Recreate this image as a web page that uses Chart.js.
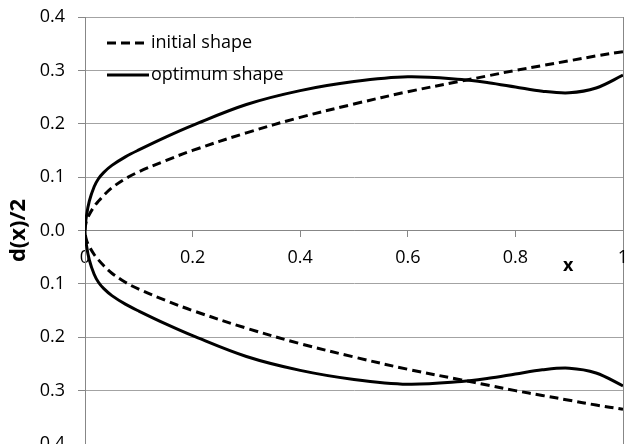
<!DOCTYPE html>
<html>
<head>
<meta charset="utf-8">
<script src="https://cdn.jsdelivr.net/npm/chart.js@4.4.0/dist/chart.umd.min.js"></script>
<style>
  html, body { margin: 0; padding: 0; background: #fff; overflow: hidden; }
  #wrap { position: absolute; left: 0; top: 0; width: 629px; height: 460px; }
</style>
</head>
<body>
<div id="wrap"><canvas id="c"></canvas></div>
<script>
// ---- data ----
const seriesNames = ['initial shape', 'optimum shape'];
const xs = [0, 0.0025, 0.008, 0.017, 0.025, 0.035, 0.05, 0.075, 0.1, 0.15, 0.2, 0.3, 0.4, 0.5, 0.6, 0.7, 0.75, 0.8, 0.85, 0.9, 0.95, 1];
const initialUpper = [0, 0.017, 0.030, 0.045, 0.055, 0.066, 0.080, 0.097, 0.110, 0.131, 0.150, 0.183, 0.212, 0.237, 0.260, 0.280, 0.290, 0.300, 0.309, 0.318, 0.327, 0.335];
const initialLower = [0, -0.017, -0.030, -0.045, -0.055, -0.066, -0.080, -0.097, -0.110, -0.131, -0.150, -0.183, -0.212, -0.237, -0.260, -0.280, -0.290, -0.300, -0.309, -0.318, -0.327, -0.335];
const optimumUpper = [0, 0.026, 0.055, 0.082, 0.097, 0.109, 0.122, 0.138, 0.151, 0.175, 0.197, 0.236, 0.262, 0.279, 0.288, 0.283, 0.277, 0.269, 0.261, 0.258, 0.267, 0.291];
const optimumLower = [0, -0.026, -0.055, -0.082, -0.097, -0.109, -0.122, -0.138, -0.151, -0.175, -0.197, -0.236, -0.262, -0.279, -0.288, -0.283, -0.277, -0.269, -0.261, -0.258, -0.267, -0.291];
const xTickValues = [0, 0.2, 0.4, 0.6, 0.8, 1];
const yTickValues = [-0.4, -0.3, -0.2, -0.1, 0, 0.1, 0.2, 0.3, 0.4];
const yTitle = 'd(x)/2';
const xTitle = 'x';

// closed outline: upper branch from x=1 back to 0, then lower branch 0 -> 1
function outline(upper, lower) {
  const pts = [];
  for (let i = xs.length - 1; i >= 0; i--) pts.push({x: xs[i], y: upper[i]});
  for (let i = 1; i < xs.length; i++) pts.push({x: xs[i], y: lower[i]});
  return pts;
}

const FONT = "'Open Sans', sans-serif";
const AXIS = '#878787';
const GRID = '#a3a3a3';

const legendInside = {
  id: 'legendInside',
  afterDraw(chart) {
    const ctx = chart.ctx;
    const left = chart.chartArea.left + 22;
    const rows = [43, 75];
    ctx.save();
    chart.data.datasets.forEach((ds, i) => {
      const y = rows[i];
      ctx.beginPath();
      ctx.setLineDash(ds.borderDash || []);
      ctx.lineWidth = ds.borderWidth;
      ctx.strokeStyle = ds.borderColor;
      ctx.moveTo(left, y);
      ctx.lineTo(left + 42, y);
      ctx.stroke();
      ctx.setLineDash([]);
      ctx.fillStyle = '#000';
      ctx.font = '18px ' + FONT;
      ctx.textAlign = 'left';
      ctx.textBaseline = 'middle';
      ctx.fillText(ds.label, left + 44, y);
    });
    // x axis title next to the axis
    const xs_ = chart.scales.x, ys_ = chart.scales.y;
    ctx.font = 'bold 18px ' + FONT;
    ctx.textAlign = 'center';
    ctx.textBaseline = 'middle';
    ctx.fillStyle = '#000';
    ctx.fillText(xTitle, xs_.getPixelForValue(0.9) - 1, ys_.getPixelForValue(0) + 35);
    ctx.restore();
  }
};

new Chart(document.getElementById('c'), {
  type: 'scatter',
  data: {
    datasets: [
      {
        label: seriesNames[0],
        data: outline(initialUpper, initialLower),
        showLine: true,
        borderColor: '#000',
        borderWidth: 3,
        borderDash: [9, 5],
        pointRadius: 0,
        tension: 0.35,
        fill: false
      },
      {
        label: seriesNames[1],
        data: outline(optimumUpper, optimumLower),
        showLine: true,
        borderColor: '#000',
        borderWidth: 3,
        pointRadius: 0,
        tension: 0.35,
        fill: false
      }
    ]
  },
  options: {
    responsive: true,
    maintainAspectRatio: false,
    animation: false,
    devicePixelRatio: 1,
    layout: { padding: { top: 17, right: 6, bottom: 16, left: 0 } },
    plugins: { legend: { display: false }, tooltip: { enabled: false } },
    scales: {
      x: {
        type: 'linear',
        position: { y: 0 },
        min: 0, max: 1,
        afterBuildTicks(scale) { scale.ticks = xTickValues.map(v => ({value: v})); },
        afterFit(scale) { scale.paddingLeft = 0; scale.paddingRight = 0; },
        ticks: {
          color: '#000',
          font: { family: FONT, size: 18 },
          padding: 11,
          maxRotation: 0,
          callback: v => (v === 0 || v === 1) ? String(v) : v.toFixed(1)
        },
        grid: {
          color: c => (c.tick && c.tick.value === 1) ? AXIS : 'rgba(0,0,0,0)',
          tickColor: AXIS,
          tickLength: 6,
          lineWidth: 1
        },
        border: { color: AXIS, width: 1 }
      },
      y: {
        type: 'linear',
        position: 'left',
        min: -0.4, max: 0.4,
        afterBuildTicks(scale) { scale.ticks = yTickValues.map(v => ({value: v})); },
        afterFit(scale) { scale.width = 85; scale.paddingTop = 0; scale.paddingBottom = 0; },
        ticks: {
          color: '#000',
          font: { family: FONT, size: 18 },
          padding: 13,
          callback: v => Math.abs(v).toFixed(1)
        },
        grid: { color: GRID, tickColor: AXIS, tickLength: 7, lineWidth: 1 },
        border: { color: AXIS, width: 1 },
        title: {
          display: true,
          text: yTitle,
          color: '#000',
          font: { family: FONT, size: 22, weight: 'bold' },
          padding: { top: 6, bottom: 0 }
        }
      }
    }
  },
  plugins: [legendInside]
});
</script>
</body>
</html>
